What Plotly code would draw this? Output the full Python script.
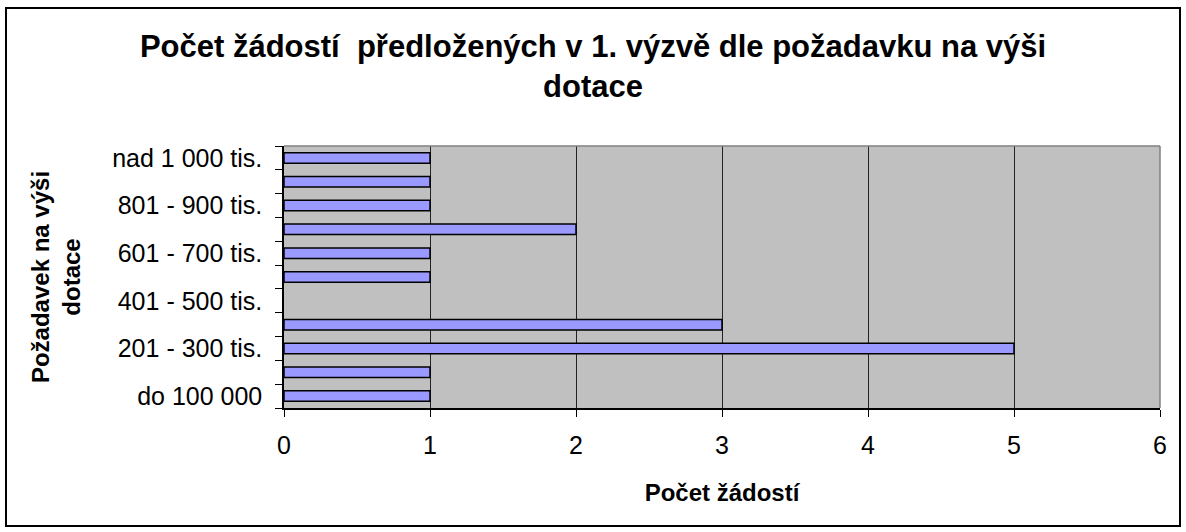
import plotly.graph_objects as go

categories = ["do 100 000", "101 - 200 tis.", "201 - 300 tis.", "301 - 400 tis.",
              "401 - 500 tis.", "501 - 600 tis.", "601 - 700 tis.", "701 - 800 tis.",
              "801 - 900 tis.", "901 - 1 000 tis.", "nad 1 000 tis."]
counts = [1, 1, 5, 3, 0, 1, 1, 2, 1, 1, 1]
shown_labels = [c if i % 2 == 0 else "" for i, c in enumerate(categories)]
x_ticks = [0, 1, 2, 3, 4, 5, 6]

title_text = "Počet žádostí  předložených v 1. výzvě dle požadavku na výši<br>dotace"
x_title = "Počet žádostí"
y_title = "Požadavek na výši<br>dotace"

FONT = "Liberation Sans, Arial, sans-serif"
W, H = 1186, 532
ML, MR, MT, MB = 284, 26, 146, 124
pw, ph = W - ML - MR, H - MT - MB

def px2paper_x(px):
    return (px - ML) / pw

def px2paper_y(py):
    return (H - MB - py) / ph

fig = go.Figure(go.Bar(
    x=counts, y=categories, orientation="h",
    marker=dict(color="#9999FF",
                line=dict(color="#000000", width=[1.5 if v > 0 else 0 for v in counts])),
    hoverinfo="x+y",
))

fig.update_layout(
    width=W, height=H,
    margin=dict(l=ML, r=MR, t=MT, b=MB, autoexpand=False),
    paper_bgcolor="#FFFFFF", plot_bgcolor="#C0C0C0",
    bargap=0.56, showlegend=False,
    font=dict(family=FONT, size=25, color="#000000"),
    title=dict(text="<b>" + title_text + "</b>", x=0.5, xref="container", xanchor="center",
               y=1 - 57 / H, yref="container", yanchor="top",
               font=dict(family=FONT, size=31, color="#000000")),
    xaxis=dict(range=[0, 6], tickvals=x_ticks, ticktext=[str(v) for v in x_ticks],
               showgrid=True, gridcolor="#222222", gridwidth=1,
               showline=True, linecolor="#000000", linewidth=1.5,
               ticks="outside", ticklen=7, tickcolor="#000000", tickwidth=1,
               zeroline=False, automargin=False, ticklabelstandoff=7,
               tickfont=dict(family=FONT, size=25),
               title=dict(text="<b>" + x_title + "</b>", standoff=26,
                          font=dict(family=FONT, size=24))),
    yaxis=dict(type="category", categoryorder="array", categoryarray=categories,
               range=[-0.5, len(categories) - 0.5],
               tickvals=categories, ticktext=shown_labels, tickson="boundaries",
               showgrid=False, showline=True, linecolor="#000000", linewidth=1.5,
               ticks="outside", ticklen=7, tickcolor="#000000", tickwidth=1,
               automargin=False, ticklabelstandoff=15,
               tickfont=dict(family=FONT, size=25),
               title=dict(text="<b>" + y_title + "</b>", standoff=25,
                          font=dict(family=FONT, size=24))),
    shapes=[
        dict(type="line", xref="paper", yref="paper", x0=0, x1=1, y0=1, y1=1,
             line=dict(color="#808080", width=1.5), layer="above"),
        dict(type="line", xref="paper", yref="paper", x0=1, x1=1, y0=0, y1=1,
             line=dict(color="#808080", width=1.5), layer="above"),
        dict(type="rect", xref="paper", yref="paper",
             x0=px2paper_x(6), x1=px2paper_x(1180), y0=px2paper_y(526), y1=px2paper_y(8),
             line=dict(color="#000000", width=2), fillcolor="rgba(0,0,0,0)", layer="above"),
    ],
)

fig.write_html("out.html", config={"displayModeBar": False},
               post_script="document.body.style.margin='0';")
